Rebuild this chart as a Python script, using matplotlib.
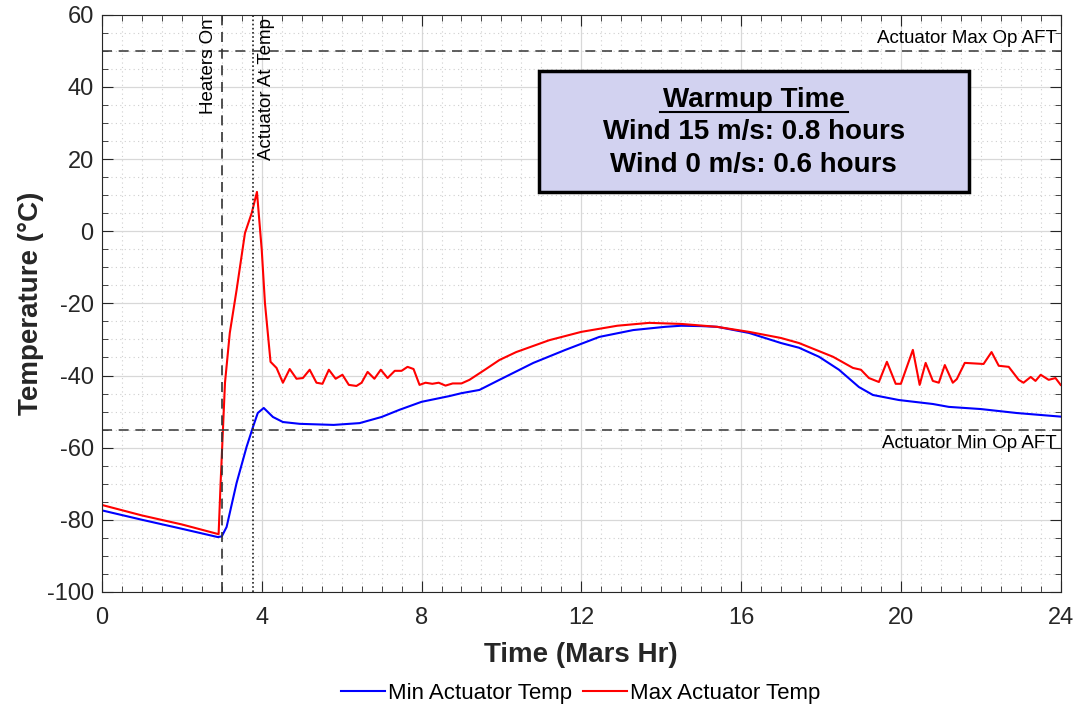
import numpy as np
import matplotlib
matplotlib.use('Agg')
import matplotlib.pyplot as plt
from matplotlib.patches import Rectangle
from matplotlib.ticker import MultipleLocator

plt.rcParams['font.family'] = ['Liberation Sans', 'DejaVu Sans']
plt.rcParams['axes.unicode_minus'] = False

# Min actuator temp (blue)
min_hr = [0, 1, 2, 2.9, 3.0, 3.12, 3.37, 3.62, 3.78, 3.9, 4.05, 4.28, 4.53, 4.95,
          5.8, 6.45, 7.0, 7.45, 8.0, 8.7, 9.0, 9.45, 9.95, 10.8, 11.6, 12.45, 13.3,
          14.1, 14.5, 15.0, 15.4, 16.2, 17.0, 17.45, 17.95, 18.45, 18.95, 19.3,
          19.95, 20.8, 21.2, 22.0, 22.9, 24.0]
min_temp = [-77.4, -80.0, -82.5, -84.8, -84.6, -82.0, -69.8, -59.8, -54.3, -50.4,
            -49.0, -51.5, -52.9, -53.4, -53.7, -53.2, -51.5, -49.5, -47.3, -45.7,
            -44.9, -44.0, -41.2, -36.5, -32.9, -29.3, -27.4, -26.5, -26.2, -26.3,
            -26.5, -28.2, -31.0, -32.3, -34.8, -38.4, -43.2, -45.4, -46.8, -47.9,
            -48.7, -49.3, -50.4, -51.4]

# Max actuator temp (red)
max_hr = [0, 1, 2, 2.92, 2.97, 3.08, 3.2, 3.37, 3.58, 3.75, 3.88, 4.0, 4.08, 4.22,
          4.37, 4.53, 4.7, 4.87, 5.03, 5.2, 5.37, 5.52, 5.68, 5.85, 6.02, 6.18, 6.37,
          6.5, 6.65, 6.82, 6.98, 7.15, 7.33, 7.5, 7.65, 7.8, 7.95, 8.1, 8.27, 8.43,
          8.6, 8.78, 9.0, 9.2, 9.6, 9.95, 10.37, 11.2, 12.0, 12.9, 13.7, 14.5, 15.4,
          16.2, 17.0, 17.45, 18.3, 18.8, 19.0, 19.2, 19.45, 19.65, 19.87, 20.0, 20.3,
          20.47, 20.62, 20.8, 20.95, 21.1, 21.3, 21.4, 21.6, 22.07, 22.27, 22.45,
          22.7, 22.95, 23.07, 23.25, 23.37, 23.5, 23.7, 23.87, 24.0]
max_temp = [-75.9, -78.8, -81.3, -84.0, -69.8, -42.0, -28.2, -16.3, -0.5, 5.1, 10.9,
            -5.2, -19.9, -36.2, -37.9, -42.0, -38.2, -40.9, -40.7, -38.4, -42.0, -42.3,
            -38.4, -40.9, -39.8, -42.6, -42.9, -42.0, -39.0, -40.9, -38.4, -40.7, -38.7,
            -38.7, -37.6, -38.2, -42.6, -42.0, -42.3, -42.0, -42.8, -42.2, -42.2, -41.2,
            -38.3, -35.7, -33.5, -30.2, -27.9, -26.2, -25.4, -25.7, -26.5, -27.9, -29.6,
            -31.0, -34.8, -37.9, -38.4, -40.7, -41.8, -36.2, -42.3, -42.3, -32.9, -42.6,
            -36.5, -41.5, -42.0, -37.1, -42.0, -41.0, -36.5, -36.8, -33.5, -37.3, -37.6,
            -41.2, -42.0, -40.4, -41.5, -39.8, -41.2, -40.7, -42.6]

heaters_on = 3.0
at_temp = 3.775
max_op = 50
min_op = -55

fig = plt.figure(figsize=(10.79, 7.08), dpi=100)
ax = fig.add_axes([0.0945, 0.164, 0.8885, 0.815])

ax.plot(min_hr, min_temp, color='#0000ff', lw=1.5, label='Min Actuator Temp')
ax.plot(max_hr, max_temp, color='#ff0000', lw=1.5, label='Max Actuator Temp')

ax.axhline(max_op, color='#444444', ls=(0, (6, 4)), lw=1.2)
ax.axhline(min_op, color='#444444', ls=(0, (6, 4)), lw=1.2)
ax.axvline(heaters_on, color='#333333', ls=(0, (6, 4)), lw=1.2)
ax.axvline(at_temp, color='#222222', ls=(0, (1, 1.5)), lw=1.2)

ax.text(heaters_on - 0.12, 59, 'Heaters On', rotation=90, ha='right', va='top', fontsize=13.5)
ax.text(at_temp + 0.12, 59, 'Actuator At Temp', rotation=90, ha='left', va='top', fontsize=13.5)
ax.text(23.9, 51, 'Actuator Max Op AFT', ha='right', va='bottom', fontsize=13.5)
ax.text(23.9, -56.5, 'Actuator Min Op AFT', ha='right', va='top', fontsize=13.5)

# Warmup time box
ax.add_patch(Rectangle((10.93, 10.9), 10.77, 33.6, facecolor='#d2d2f0',
                       edgecolor='black', lw=2.5, zorder=5))
xc = 10.93 + 10.77 / 2
ax.text(xc, 36.3, 'Warmup Time', ha='center', va='center', fontsize=20, fontweight='bold', zorder=6)
ax.plot([xc - 2.35, xc + 2.35], [33.0, 33.0], color='black', lw=1.5, zorder=6)
ax.text(xc, 27.4, 'Wind 15 m/s: 0.8 hours', ha='center', va='center', fontsize=20, fontweight='bold', zorder=6)
ax.text(xc, 18.4, 'Wind 0 m/s: 0.6 hours', ha='center', va='center', fontsize=20, fontweight='bold', zorder=6)

ax.set_xlim(0, 24)
ax.set_ylim(-100, 60)
ax.xaxis.set_major_locator(MultipleLocator(4))
ax.xaxis.set_minor_locator(MultipleLocator(0.5))
ax.yaxis.set_major_locator(MultipleLocator(20))
ax.yaxis.set_minor_locator(MultipleLocator(5))
ax.grid(which='major', color='#d8d8d8', lw=0.9, ls='-')
ax.grid(which='minor', color='#cfcfcf', lw=0.8, ls=(0, (1, 3)))
ax.set_axisbelow(True)
ax.tick_params(which='both', direction='in', top=True, right=True, colors='#262626',
               labelcolor='#262626', labelsize=17)
ax.tick_params(which='major', length=8)
ax.tick_params(which='minor', length=4)
ax.tick_params(axis='x', which='major', pad=11)
ax.tick_params(axis='y', which='major', pad=6)
for s in ax.spines.values():
    s.set_color('#262626')

ax.set_xlabel('Time (Mars Hr)', fontsize=20, fontweight='bold', color='#262626', labelpad=9)
ax.set_ylabel('Temperature (°C)', fontsize=20, fontweight='bold', color='#262626', labelpad=2)

fig.legend(loc='center', bbox_to_anchor=(0.538, 0.021), ncol=2, frameon=False,
           fontsize=16, handlelength=2.0, handletextpad=0.1, columnspacing=0.5)

fig.savefig('out.png', dpi=100)
